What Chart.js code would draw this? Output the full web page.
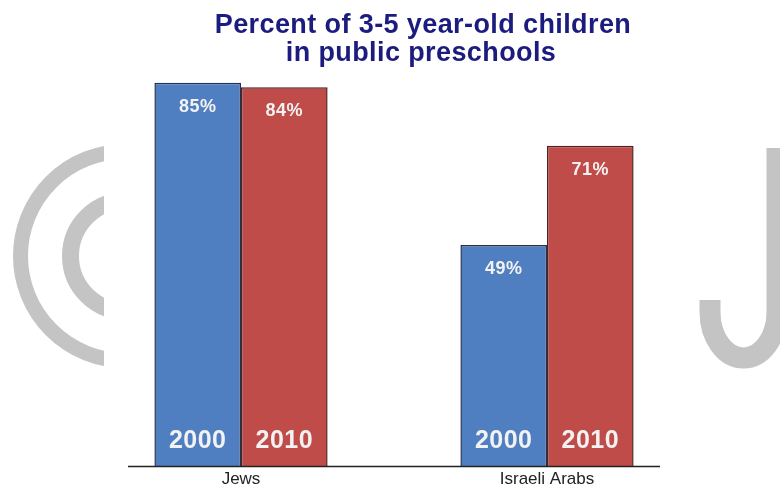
<!DOCTYPE html>
<html>
<head>
<meta charset="utf-8">
<script src="https://cdn.jsdelivr.net/npm/chart.js@4.4.0/dist/chart.umd.min.js"></script>
<style>
  html, body { margin: 0; padding: 0; background: #fff; }
  #wrap { width: 780px; height: 489px; }
</style>
</head>
<body>
<div id="wrap"><canvas id="barChart" width="780" height="489"></canvas></div>
<script>
const categories = ['Jews', 'Israeli Arabs'];
const years = ['2000', '2010'];
const values_2000 = [85, 49];
const values_2010 = [84, 71];
const titleLines = ['Percent of 3-5 year-old children', 'in public preschools'];

// grey watermark shapes behind the chart
const watermark = {
  id: 'watermark',
  beforeDraw(chart) {
    const c = chart.ctx;
    c.save();
    c.strokeStyle = '#c4c4c4';
    c.lineCap = 'butt';
    // left: two arcs, cut off on the right
    c.beginPath();
    c.rect(0, 0, 104, chart.height);
    c.clip();
    c.lineWidth = 15;
    c.beginPath();
    c.arc(125, 256, 104.5, 0, Math.PI * 2);
    c.stroke();
    c.lineWidth = 17;
    c.beginPath();
    c.arc(126, 256, 55.5, 0, Math.PI * 2);
    c.stroke();
    c.restore();

    // right: a J
    c.save();
    c.strokeStyle = '#c4c4c4';
    c.lineWidth = 21;
    c.lineCap = 'butt';
    c.beginPath();
    c.moveTo(777, 148);
    c.lineTo(777, 312);
    c.ellipse(743.5, 312, 33.5, 46, 0, 0, Math.PI);
    c.lineTo(710, 300);
    c.stroke();
    c.restore();
  }
};

// title, value labels, year labels and axis line
const overlay = {
  id: 'overlay',
  afterDatasetsDraw(chart) {
    const c = chart.ctx;
    const area = chart.chartArea;
    c.save();
    c.strokeStyle = '#222';
    c.lineWidth = 1.5;
    c.beginPath();
    c.moveTo(area.left + 40, area.bottom + 0.5);
    c.lineTo(area.right - 40, area.bottom + 0.5);
    c.stroke();

    c.textAlign = 'center';
    c.textBaseline = 'middle';
    chart.data.datasets.forEach((ds, i) => {
      const meta = chart.getDatasetMeta(i);
      meta.data.forEach((bar, j) => {
        c.fillStyle = '#f2f2f2';
        c.letterSpacing = '0.5px';
        c.font = 'bold 18px "Liberation Sans", Arial, sans-serif';
        c.fillText(ds.data[j] + '%', bar.x, bar.y + 24);
        c.letterSpacing = '0.5px';
        c.font = 'bold 25px "Liberation Sans", Arial, sans-serif';
        c.fillText(ds.label, bar.x, bar.base - 25);
      });
    });

    c.fillStyle = '#1c1c7e';
    c.letterSpacing = '0.4px';
    c.font = 'bold 27px "Liberation Sans", Arial, sans-serif';
    c.textBaseline = 'alphabetic';
    c.fillText(titleLines[0], 423, 33);
    c.fillText(titleLines[1], 421, 61);
    c.restore();
  }
};

const ctx = document.getElementById('barChart');
let barChart = new Chart(ctx, {
  type: 'bar',
  data: {
    labels: categories,
    datasets: [{
      label: years[0],
      data: values_2000,
      backgroundColor: '#4f7fc0',
      borderColor: '#25324f',
      borderWidth: 1.5,
      borderSkipped: 'bottom'
    }, {
      label: years[1],
      data: values_2010,
      backgroundColor: '#c04c4a',
      borderColor: '#4a2424',
      borderWidth: 1.5,
      borderSkipped: 'bottom'
    }]
  },
  options: {
    responsive: false,
    animation: false,
    layout: {
      padding: { top: 15, left: 88, right: 80, bottom: -4 }
    },
    plugins: {
      legend: { display: false },
      title: { display: false },
      tooltip: { enabled: false }
    },
    datasets: {
      bar: { barPercentage: 1.0, categoryPercentage: 0.566 }
    },
    scales: {
      x: {
        grid: { display: false, drawTicks: false },
        border: { display: false },
        ticks: {
          color: '#222',
          padding: 5,
          font: { family: '"Liberation Sans", Arial, sans-serif', size: 17, lineHeight: 1 }
        }
      },
      y: {
        display: false,
        min: 0,
        max: 100
      }
    }
  },
  plugins: [watermark, overlay]
});
</script>
</body>
</html>
